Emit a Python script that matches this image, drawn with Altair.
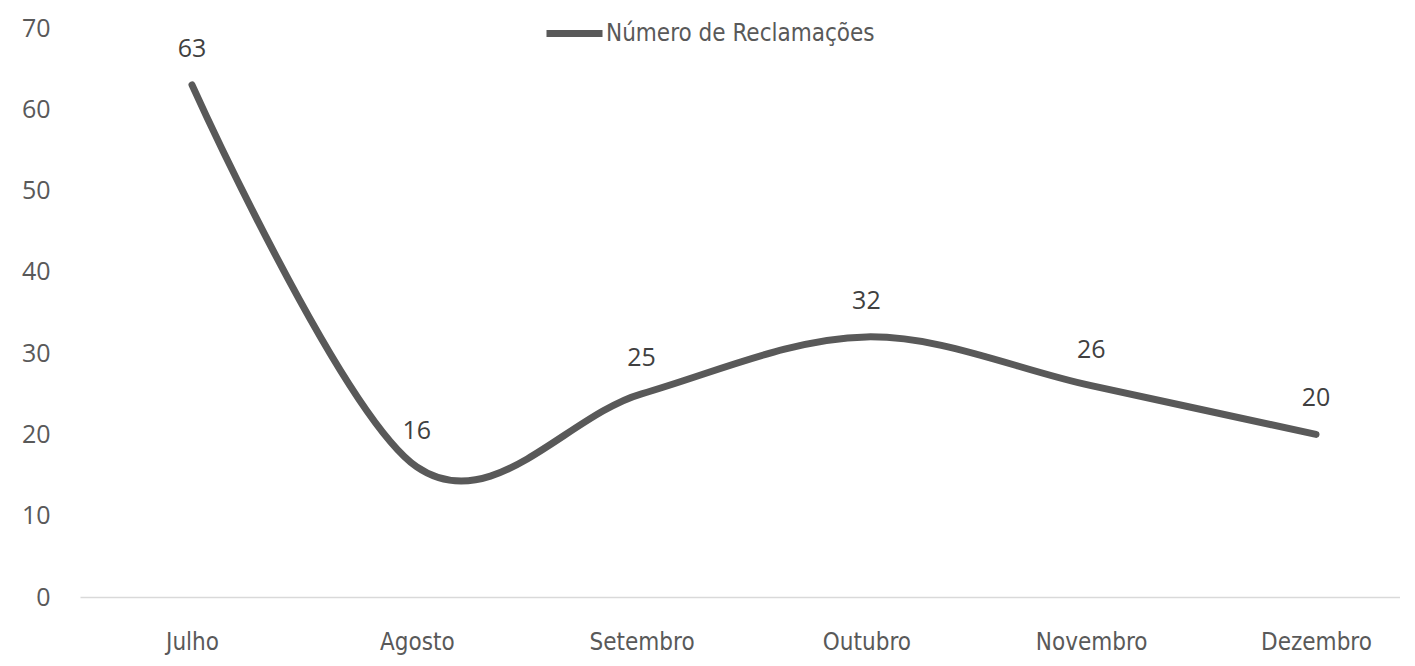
import altair as alt
import pandas as pd

months = ["Julho", "Agosto", "Setembro", "Outubro", "Novembro", "Dezembro"]
values = [63, 16, 25, 32, 26, 20]
series_name = "Número de Reclamações"

df = pd.DataFrame({
    "idx": list(range(len(months))),
    "mes": months,
    "valor": values,
    "serie": [series_name] * len(months),
})

W = 1320
first_px, step_px = 112, 224.8
x_domain = [-first_px / step_px, (W - first_px) / step_px]
label_expr = "[" + ",".join("'" + m + "'" for m in months) + "][datum.value]"
cond_font = "'DejaVu Sans Condensed', 'Liberation Sans Narrow', Roboto"

x_enc = alt.X(
    "idx:Q",
    scale=alt.Scale(domain=x_domain, nice=False, zero=False),
    axis=alt.Axis(
        title=None,
        values=list(range(len(months))),
        labelExpr=label_expr,
        ticks=False,
        grid=False,
        domainColor="#d9d9d9",
        domainWidth=1.5,
        labelFont=cond_font,
        labelFontSize=24,
        labelColor="#595959",
        labelPadding=33,
        labelAngle=0,
        labelFlush=False,
        labelOverlap=False,
    ),
)
y_enc = alt.Y(
    "valor:Q",
    scale=alt.Scale(domain=[0, 70]),
    axis=alt.Axis(
        title=None,
        values=[0, 10, 20, 30, 40, 50, 60, 70],
        ticks=False,
        grid=False,
        domain=False,
        labelFont="Open Sans",
        labelFontSize=25,
        labelColor="#595959",
        labelPadding=30,
    ),
)

line = alt.Chart(df).mark_line(
    interpolate="cardinal", tension=0, strokeWidth=7, strokeCap="round", strokeJoin="round"
).encode(
    x=x_enc,
    y=y_enc,
    color=alt.Color(
        "serie:N",
        scale=alt.Scale(range=["#595959"]),
        legend=alt.Legend(
            title=None,
            orient="none",
            legendX=463,
            legendY=-26,
            symbolType="stroke",
            symbolSize=3136,
            symbolStrokeWidth=7,
            labelFont=cond_font,
            labelFontSize=24,
            labelColor="#595959",
            labelOffset=0,
            labelLimit=0,
        ),
    ),
)

labels = alt.Chart(df).mark_text(
    dy=-36, font="Open Sans", fontSize=25, color="#404040"
).encode(x="idx:Q", y="valor:Q", text="valor:Q")

chart = alt.layer(line, labels).properties(
    width=W,
    height=569,
    autosize="none",
    padding={"left": 72, "top": 20, "right": 0, "bottom": 61},
).configure_view(stroke=None)

chart.save("out.html", embed_options={"renderer": "svg", "actions": False})
